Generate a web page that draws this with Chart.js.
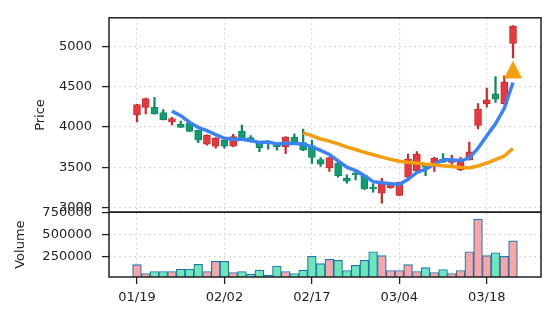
<!DOCTYPE html>
<html>
<head>
<meta charset="utf-8">
<script src="https://cdn.jsdelivr.net/npm/chart.js@4"></script>
<style>
  html, body { margin: 0; padding: 0; background: #fff; }
  #wrap { width: 556px; height: 322px; position: relative; }
</style>
</head>
<body>
<div id="wrap"><canvas id="chart"></canvas></div>
<script>
// trading days (MM/DD)
var dates = ['01/19','01/20','01/21','01/24','01/25','01/26','01/27','01/28','01/31','02/01',
             '02/02','02/03','02/04','02/07','02/08','02/09','02/10','02/11','02/14','02/16',
             '02/17','02/18','02/22','02/23','02/24','02/25','02/28','03/01','03/02','03/03',
             '03/04','03/07','03/08','03/09','03/10','03/11','03/14','03/15','03/16','03/17',
             '03/18','03/21','03/22','03/23'];

var opens  = [4152,4242,4242,4177,4061,4033,4042,3956,3784,3759,
              3840,3759,3947,3865,3804,3820,3780,3751,3874,3804,
              3767,3595,3489,3551,3361,3428,3395,3251,3177,3243,
              3149,3374,3456,3538,3517,3600,3559,3468,3591,4017,
              4287,4410,4287,5033];
var highs  = [4280,4355,4365,4214,4119,4070,4050,3960,3900,3865,
              3850,3907,4021,3890,3810,3825,3790,3880,3914,3972,
              3833,3619,3625,3560,3403,3447,3400,3293,3361,3310,
              3315,3661,3693,3545,3620,3669,3649,3620,3812,4287,
              4479,4622,4631,5255];
var lows   = [4061,4160,4158,4084,4025,3993,3940,3804,3772,3735,
              3735,3755,3830,3810,3693,3723,3710,3668,3795,3705,
              3545,3509,3447,3374,3300,3342,3225,3190,3054,3240,
              3145,3370,3435,3395,3447,3555,3538,3455,3585,3975,
              4245,4303,4280,4853];
var closes = [4275,4349,4160,4086,4103,3993,3943,3833,3894,3858,
              3759,3880,3833,3816,3742,3790,3755,3874,3800,3710,
              3619,3538,3619,3395,3325,3403,3231,3231,3293,3305,
              3312,3600,3661,3497,3612,3560,3600,3600,3689,4221,
              4336,4344,4553,5250];
var volumes = [157000,56000,78500,78500,78500,104000,104000,160000,78500,194000,
               194000,67000,78500,48000,93000,37000,138000,78500,56000,93000,
               250000,168000,216000,205000,90000,149000,205000,302000,258000,90000,
               90000,157000,78500,123000,67000,101000,56000,90000,302000,672000,
               258000,291000,250000,426000];
// moving averages
var ma5  = [null,null,null,null,4195,4138,4057,3992,3953,3904,
            3857,3845,3845,3829,3806,3812,3787,3795,3792,3786,
            3752,3708,3657,3576,3499,3456,3395,3320,3305,3295,
            3285,3348,3434,3475,3536,3590,3590,3578,3612,3734,
            3889,4038,4229,4550];
var ma20 = [null,null,null,null,null,null,null,null,null,null,
            null,null,null,null,null,null,null,null,null,3923,
            3890,3849,3822,3788,3749,3719,3684,3654,3624,3596,
            3574,3560,3551,3535,3529,3517,3509,3496,3490,3516,
            3551,3592,3638,3731];
var signal = [];
for (var k = 0; k < 43; k++) signal.push(null);
signal.push(4712);

var priceTicks = [3000, 3500, 4000, 4500, 5000];
var volumeTicks = [250000, 500000, 750000];
var dateTicks = [0, 10, 20, 30, 40];

var upFill = '#e5393d', upEdge = '#d12a2a';
var dnFill = '#129c6f', dnEdge = '#0b8a5f';
var volUp = '#fca5a5', volDn = '#6ee7b7';
var font = {family: '"DejaVu Sans"', size: 13};

var isUp = closes.map(function(c, i){ return c >= opens[i]; });

var tri = document.createElement('canvas');
tri.width = 19; tri.height = 19;
var tc = tri.getContext('2d');
tc.fillStyle = '#f59e0b';
tc.beginPath(); tc.moveTo(9.5, 0.5); tc.lineTo(18.5, 18.5); tc.lineTo(0.5, 18.5); tc.closePath(); tc.fill();

function pts(arr){ return arr.map(function(v, i){ return {x: i, y: v}; }); }

var frame = {
  id: 'frame',
  afterDraw: function(chart){
    var ctx = chart.ctx, ca = chart.chartArea, y = chart.scales.y, yv = chart.scales.yv;
    ctx.save();
    ctx.strokeStyle = '#222';
    ctx.lineWidth = 1.5;
    ctx.strokeRect(ca.left, y.top, ca.right - ca.left, y.bottom - y.top);
    ctx.strokeRect(ca.left, yv.top, ca.right - ca.left, yv.bottom - yv.top);
    ctx.fillStyle = '#222';
    ctx.font = '13px "DejaVu Sans"';
    ctx.textAlign = 'center';
    ctx.textBaseline = 'middle';
    ctx.save();
    ctx.translate(41, (y.top + y.bottom) / 2);
    ctx.rotate(-Math.PI / 2);
    ctx.fillText('Price', 0, 0);
    ctx.restore();
    ctx.save();
    ctx.translate(21, (yv.top + yv.bottom) / 2);
    ctx.rotate(-Math.PI / 2);
    ctx.fillText('Volume', 0, 0);
    ctx.restore();
    ctx.restore();
  }
};

function gridOpts(){
  return {color: '#d9d9d9', lineWidth: 1.2, tickColor: '#222', tickLength: 7, tickWidth: 1.3, offset: false};
}

new Chart(document.getElementById('chart'), {
  type: 'bar',
  data: {
    datasets: [
      {type: 'line', label: 'signal', data: pts(signal), yAxisID: 'y', showLine: false,
       pointStyle: tri, pointRadius: 9, order: 0},
      {type: 'line', label: 'MA20', data: pts(ma20), yAxisID: 'y', borderColor: '#f59e0b',
       borderWidth: 3.5, pointRadius: 0, tension: 0, order: 1},
      {type: 'line', label: 'MA5', data: pts(ma5), yAxisID: 'y', borderColor: '#3b82f6',
       borderWidth: 3.5, pointRadius: 0, tension: 0, order: 2},
      {label: 'body', data: opens.map(function(o, i){ return {x: i, y: [o, closes[i]]}; }), yAxisID: 'y',
       backgroundColor: isUp.map(function(u){ return u ? upFill : dnFill; }),
       borderColor: isUp.map(function(u){ return u ? upEdge : dnEdge; }),
       borderWidth: 1, borderSkipped: false, barThickness: 7, grouped: false, order: 3},
      {label: 'wick', data: lows.map(function(l, i){ return {x: i, y: [l, highs[i]]}; }), yAxisID: 'y',
       backgroundColor: isUp.map(function(u){ return u ? upEdge : dnEdge; }),
       borderWidth: 0, barThickness: 1.6, grouped: false, order: 4},
      {label: 'volume', data: pts(volumes), yAxisID: 'yv',
       backgroundColor: isUp.map(function(u){ return u ? volUp : volDn; }),
       borderColor: '#1f77b4', borderWidth: 1.2, barThickness: 8.75, grouped: false, order: 5}
    ]
  },
  options: {
    responsive: true,
    maintainAspectRatio: false,
    animation: false,
    events: [],
    layout: {padding: {left: 0, right: 15, top: 15, bottom: 0}},
    plugins: {legend: {display: false}, tooltip: {enabled: false}},
    scales: {
      x: {
        type: 'linear', min: -3.2, max: 46.2, offset: false,
        grid: gridOpts(),
        border: {display: false, dash: [2, 3]},
        ticks: {font: font, color: '#222', padding: 6, maxRotation: 0, autoSkip: false,
                callback: function(v){ return dates[v]; }},
        afterBuildTicks: function(s){ s.ticks = dateTicks.map(function(v){ return {value: v}; }); },
        afterFit: function(s){ s.height = 45; }
      },
      y: {
        position: 'left', stack: 'panels', stackWeight: 3, weight: 2,
        min: 2941, max: 5352,
        grid: gridOpts(),
        border: {display: false, dash: [2, 3]},
        ticks: {font: font, color: '#222', padding: 10, callback: function(v){ return String(v); }},
        afterBuildTicks: function(s){ s.ticks = priceTicks.map(function(v){ return {value: v}; }); },
        afterFit: function(s){ s.width = 109; }
      },
      yv: {
        position: 'left', stack: 'panels', stackWeight: 1, weight: 1,
        min: 16000, max: 750000,
        grid: gridOpts(),
        border: {display: false, dash: [2, 3]},
        ticks: {font: font, color: '#222', padding: 10, callback: function(v){ return String(v); }},
        afterBuildTicks: function(s){ s.ticks = volumeTicks.map(function(v){ return {value: v}; }); },
        afterFit: function(s){ s.width = 109; }
      }
    }
  },
  plugins: [frame]
});
</script>
</body>
</html>
